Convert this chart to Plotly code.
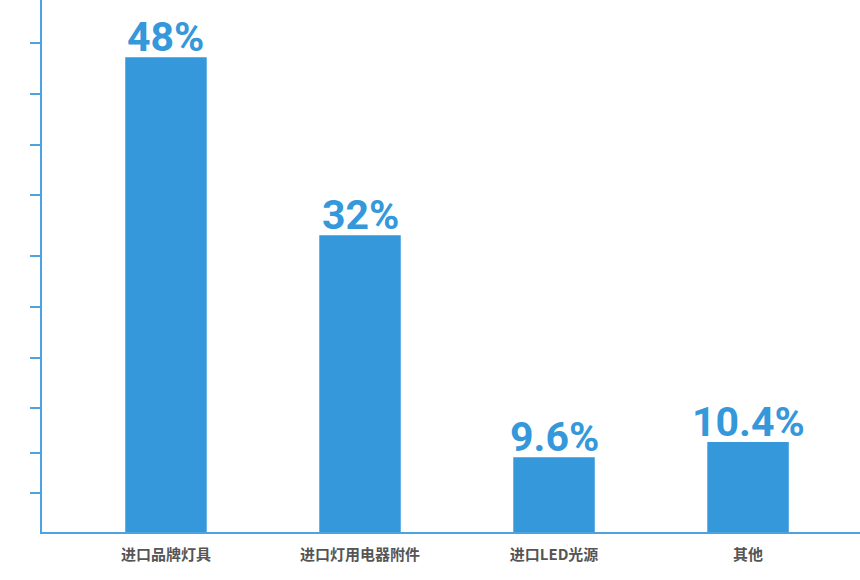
import plotly.graph_objects as go

# Categories (x-axis tick labels)
categories = ["进口品牌灯具", "进口灯用电器附件", "进口LED光源", "其他"]
# Value labels printed above the bars
value_labels = ["48%", "32%", "9.6%", "10.4%"]
# Bar heights as drawn in the picture (same units as the y axis)
bar_values = [48, 30, 7.55, 9.1]
# Positions of the (unlabelled) y-axis tick marks
y_tickvals = [3.94, 7.99, 12.54, 17.59, 22.75, 27.9, 34.07, 39.13, 44.29, 49.44]

BAR_COLOR = "#3498DB"
AXIS_COLOR = "#4DA3E0"

fig = go.Figure(
    go.Bar(
        x=categories,
        y=bar_values,
        width=0.42,
        marker=dict(color=BAR_COLOR, line=dict(width=0)),
        hoverinfo="skip",
    )
)

for cat, val, lab in zip(categories, bar_values, value_labels):
    fig.add_annotation(
        x=cat,
        y=val,
        text=lab,
        showarrow=False,
        xanchor="center",
        yanchor="bottom",
        yshift=-6,
        font=dict(family="Roboto", size=41, color=BAR_COLOR, weight="bold"),
    )

fig.update_layout(
    width=860,
    height=580,
    margin=dict(l=42, r=0, t=0, b=48),
    paper_bgcolor="white",
    plot_bgcolor="white",
    showlegend=False,
    hovermode=False,
    xaxis=dict(
        type="category",
        range=[-0.639, 3.577],
        showline=True,
        linecolor=AXIS_COLOR,
        linewidth=2,
        showgrid=False,
        zeroline=False,
        ticks="outside",
        ticklen=8,
        tickcolor="rgba(0,0,0,0)",
        tickfont=dict(family="Noto Sans CJK SC", size=15, color="#555555", weight="bold"),
    ),
    yaxis=dict(
        range=[0, 53.79],
        showline=True,
        linecolor=AXIS_COLOR,
        linewidth=2,
        showgrid=False,
        zeroline=False,
        ticks="outside",
        tickmode="array",
        tickvals=y_tickvals,
        ticklen=10,
        tickwidth=2,
        tickcolor=AXIS_COLOR,
        showticklabels=False,
    ),
)

fig.write_html(
    "out.html",
    config={"displayModeBar": False},
    post_script="document.body.style.margin='0';document.body.style.overflow='hidden';",
)
